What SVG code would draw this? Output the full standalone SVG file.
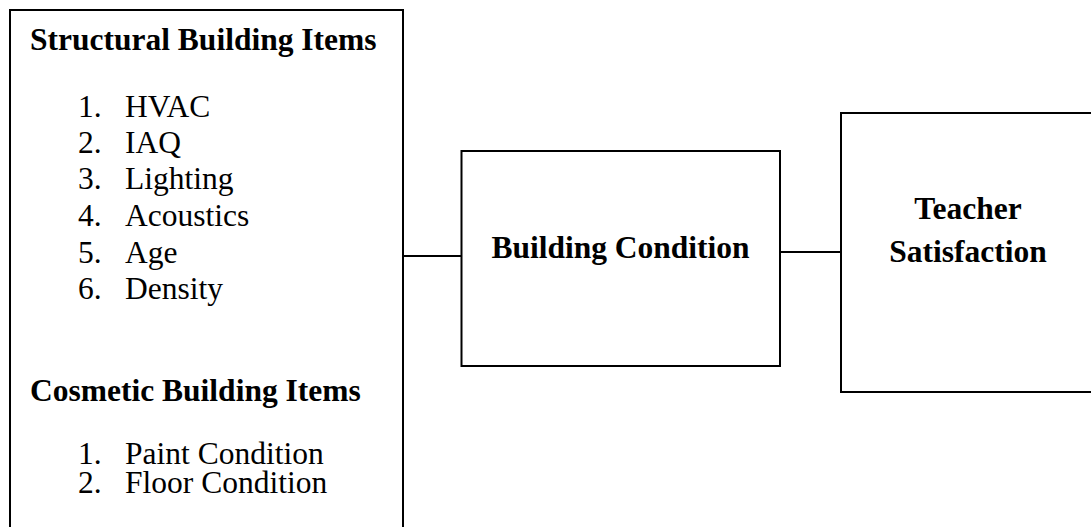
<svg xmlns="http://www.w3.org/2000/svg" width="1091" height="527" viewBox="0 0 1091 527">
<style>
.box{fill:#fff;stroke:#000;stroke-width:2}
.conn{stroke:#000;stroke-width:2;fill:none}
text{font-family:"Liberation Serif","Times New Roman",serif;font-size:31.5px;fill:#000}
.b{font-weight:bold}
.c{text-anchor:middle}
</style>
<rect width="1091" height="527" fill="#fff"/>
<g id="connectors">
<line class="conn" x1="403" y1="256" x2="462" y2="256"/>
<line class="conn" x1="780" y1="252" x2="841" y2="252"/>
</g>
<g id="items">
<rect class="box" x="10" y="10" width="393" height="540"/>
<text class="b" x="30" y="50">Structural Building Items</text>
<text x="78" y="116.7">1.</text><text x="125" y="116.7">HVAC</text>
<text x="78" y="152.7">2.</text><text x="125" y="152.7">IAQ</text>
<text x="78" y="189.3">3.</text><text x="125" y="189.3">Lighting</text>
<text x="78" y="226">4.</text><text x="125" y="226">Acoustics</text>
<text x="78" y="262.7">5.</text><text x="125" y="262.7">Age</text>
<text x="78" y="299">6.</text><text x="125" y="299">Density</text>
<text class="b" x="30" y="401">Cosmetic Building Items</text>
<text x="78" y="464">1.</text><text x="125" y="464">Paint Condition</text>
<text x="78" y="492.7">2.</text><text x="125" y="492.7">Floor Condition</text>
</g>
<g id="building-condition">
<rect class="box" x="461.5" y="151" width="318.5" height="215"/>
<text class="b c" x="620.5" y="258.3">Building Condition</text>
</g>
<g id="teacher-satisfaction">
<rect class="box" x="841" y="113" width="260" height="279"/>
<text class="b c" x="968" y="219.3">Teacher</text>
<text class="b c" x="968" y="261.7">Satisfaction</text>
</g>
</svg>
